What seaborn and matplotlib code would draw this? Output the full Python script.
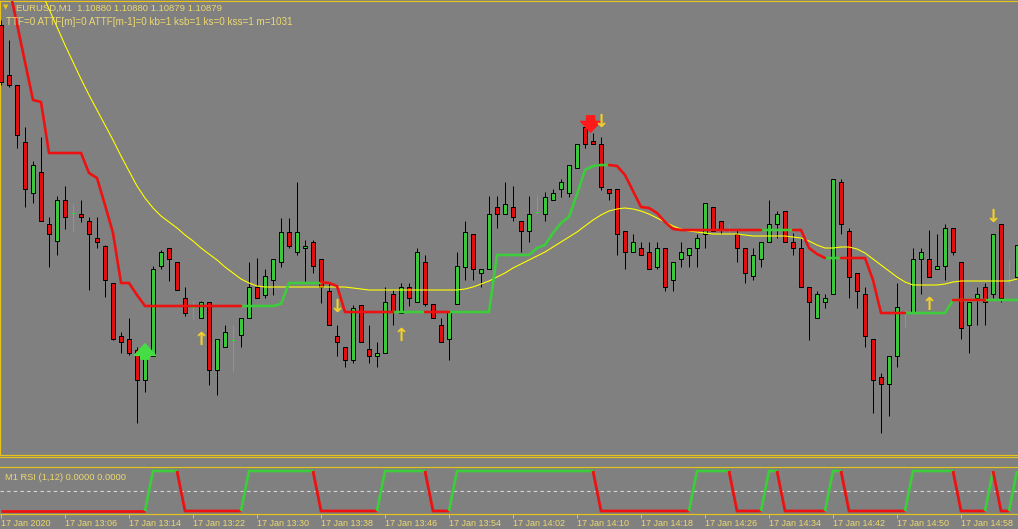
import numpy as np
import pandas as pd
import matplotlib
matplotlib.use("Agg")
import matplotlib.pyplot as plt
from matplotlib.lines import Line2D
from matplotlib.transforms import ScaledTranslation
import seaborn as sns

nan = float("nan")

# EURUSD M1, one bar per minute starting 17 Jan 2020 12:58
open_ = [
    1.11099, 1.11049, 1.11039, 1.10982, 1.10931, 1.10952, 1.10900, 1.10883,
    1.10924, 1.10911, 1.10910, 1.10903, 1.10886, 1.10878, 1.10841, 1.10788,
    1.10785, 1.10774, 1.10744, 1.10768, 1.10858, 1.10876, 1.10862, 1.10826,
    1.10817, 1.10806, 1.10822, 1.10754, 1.10777, 1.10784, 1.10789, 1.10806,
    1.10837, 1.10829, 1.10844, 1.10862, 1.10892, 1.10872, 1.10876, 1.10882,
    1.10865, 1.10833, 1.10788, 1.10777, 1.10764, 1.10819, 1.10775, 1.10768,
    1.10771, 1.10830, 1.10811, 1.10837, 1.10822, 1.10862, 1.10820, 1.10799,
    1.10785, 1.10820, 1.10857, 1.10890, 1.10851, 1.10855, 1.10917, 1.10910,
    1.10917, 1.10903, 1.10893, 1.10912, 1.10910, 1.10924, 1.10935, 1.10931,
    1.10956, 1.10997, 1.10983, 1.10980, 1.10935, 1.10935, 1.10893, 1.10872,
    1.10876, 1.10872, 1.10857, 1.10876, 1.10844, 1.10865, 1.10869, 1.10876,
    1.10890, 1.10917, 1.10903, 1.10894, 1.10890, 1.10876, 1.10848, 1.10865,
    1.10882, 1.10900, 1.10913, 1.10882, 1.10876, 1.10837, 1.10806, 1.10822,
    1.10830, 1.10942, 1.10893, 1.10851, 1.10830, 1.10785, 1.10747, 1.10740,
    1.10768, 1.10812, 1.10812, 1.10865, 1.10865, 1.10855, 1.10858, 1.10896,
    1.10862, 1.10799, 1.10826, 1.10837, 1.10830, 1.10900, 1.10844, 1.10847,
]
high = [
    1.11104, 1.11084, 1.11039, 1.10997, 1.10963, 1.10987, 1.10907, 1.10928,
    1.10938, 1.10920, 1.10924, 1.10907, 1.10907, 1.10879, 1.10841, 1.10792,
    1.10806, 1.10777, 1.10777, 1.10858, 1.10874, 1.10876, 1.10862, 1.10837,
    1.10824, 1.10823, 1.10822, 1.10785, 1.10799, 1.10799, 1.10806, 1.10862,
    1.10866, 1.10855, 1.10865, 1.10906, 1.10906, 1.10942, 1.10884, 1.10884,
    1.10865, 1.10841, 1.10799, 1.10777, 1.10819, 1.10819, 1.10799, 1.10782,
    1.10837, 1.10834, 1.10841, 1.10841, 1.10876, 1.10869, 1.10820, 1.10806,
    1.10812, 1.10872, 1.10903, 1.10890, 1.10855, 1.10928, 1.10928, 1.10942,
    1.10938, 1.10903, 1.10928, 1.10928, 1.10932, 1.10935, 1.10945, 1.10959,
    1.10980, 1.11001, 1.10991, 1.10987, 1.10935, 1.10935, 1.10893, 1.10890,
    1.10882, 1.10882, 1.10882, 1.10876, 1.10862, 1.10882, 1.10876, 1.10890,
    1.10921, 1.10917, 1.10903, 1.10900, 1.10895, 1.10876, 1.10876, 1.10882,
    1.10924, 1.10913, 1.10913, 1.10891, 1.10886, 1.10837, 1.10833, 1.10830,
    1.10945, 1.10945, 1.10896, 1.10851, 1.10837, 1.10785, 1.10751, 1.10768,
    1.10841, 1.10814, 1.10876, 1.10876, 1.10894, 1.10890, 1.10900, 1.10896,
    1.10862, 1.10822, 1.10837, 1.10841, 1.10890, 1.10900, 1.10864, 1.10879,
]
low = [
    1.11039, 1.11037, 1.10976, 1.10917, 1.10921, 1.10903, 1.10857, 1.10869,
    1.10895, 1.10892, 1.10902, 1.10834, 1.10876, 1.10827, 1.10784, 1.10771,
    1.10769, 1.10701, 1.10732, 1.10768, 1.10855, 1.10843, 1.10834, 1.10808,
    1.10805, 1.10806, 1.10739, 1.10729, 1.10777, 1.10752, 1.10777, 1.10806,
    1.10826, 1.10826, 1.10829, 1.10857, 1.10876, 1.10869, 1.10841, 1.10851,
    1.10821, 1.10799, 1.10768, 1.10757, 1.10761, 1.10782, 1.10761, 1.10757,
    1.10771, 1.10799, 1.10811, 1.10818, 1.10822, 1.10818, 1.10806, 1.10782,
    1.10764, 1.10820, 1.10844, 1.10844, 1.10837, 1.10855, 1.10896, 1.10910,
    1.10903, 1.10872, 1.10882, 1.10910, 1.10903, 1.10924, 1.10927, 1.10927,
    1.10956, 1.10976, 1.10980, 1.10934, 1.10924, 1.10869, 1.10855, 1.10872,
    1.10869, 1.10855, 1.10855, 1.10833, 1.10833, 1.10857, 1.10857, 1.10857,
    1.10876, 1.10893, 1.10890, 1.10892, 1.10862, 1.10841, 1.10844, 1.10857,
    1.10882, 1.10886, 1.10882, 1.10869, 1.10837, 1.10784, 1.10806, 1.10816,
    1.10830, 1.10890, 1.10826, 1.10816, 1.10777, 1.10711, 1.10691, 1.10708,
    1.10757, 1.10796, 1.10812, 1.10830, 1.10847, 1.10855, 1.10844, 1.10869,
    1.10785, 1.10771, 1.10799, 1.10799, 1.10826, 1.10822, 1.10840, 1.10847,
]
close = [
    1.11042, 1.11039, 1.10989, 1.10935, 1.10959, 1.10903, 1.10890, 1.10924,
    1.10907, 1.10911, 1.10907, 1.10890, 1.10882, 1.10844, 1.10785, 1.10782,
    1.10771, 1.10744, 1.10771, 1.10855, 1.10872, 1.10865, 1.10834, 1.10811,
    1.10817, 1.10822, 1.10754, 1.10785, 1.10792, 1.10784, 1.10806, 1.10837,
    1.10826, 1.10848, 1.10865, 1.10892, 1.10878, 1.10892, 1.10878, 1.10858,
    1.10837, 1.10799, 1.10782, 1.10764, 1.10816, 1.10782, 1.10768, 1.10771,
    1.10822, 1.10812, 1.10837, 1.10826, 1.10872, 1.10820, 1.10806, 1.10782,
    1.10812, 1.10858, 1.10892, 1.10855, 1.10855, 1.10910, 1.10910, 1.10920,
    1.10907, 1.10893, 1.10910, 1.10912, 1.10927, 1.10931, 1.10942, 1.10959,
    1.10980, 1.10980, 1.10980, 1.10937, 1.10931, 1.10890, 1.10872, 1.10882,
    1.10869, 1.10855, 1.10876, 1.10837, 1.10862, 1.10872, 1.10876, 1.10886,
    1.10921, 1.10893, 1.10894, 1.10894, 1.10876, 1.10851, 1.10869, 1.10882,
    1.10900, 1.10910, 1.10882, 1.10876, 1.10837, 1.10822, 1.10830, 1.10826,
    1.10945, 1.10900, 1.10847, 1.10833, 1.10788, 1.10744, 1.10740, 1.10768,
    1.10817, 1.10812, 1.10865, 1.10872, 1.10847, 1.10858, 1.10896, 1.10872,
    1.10796, 1.10822, 1.10830, 1.10822, 1.10890, 1.10826, 1.10844, 1.10879,
]

# thin yellow moving average
ma = [
    1.11224, 1.11204, 1.11186, 1.11169, 1.11151, 1.11133, 1.11115, 1.11097,
    1.11079, 1.11062, 1.11045, 1.11029, 1.11014, 1.10999, 1.10984, 1.10968,
    1.10953, 1.10938, 1.10926, 1.10916, 1.10908, 1.10902, 1.10896, 1.10889,
    1.10883, 1.10876, 1.10870, 1.10864, 1.10857, 1.10851, 1.10845, 1.10841,
    1.10838, 1.10837, 1.10837, 1.10837, 1.10837, 1.10837, 1.10837, 1.10837,
    1.10837, 1.10837, 1.10837, 1.10837, 1.10836, 1.10835, 1.10834, 1.10834,
    1.10834, 1.10834, 1.10834, 1.10834, 1.10834, 1.10834, 1.10834, 1.10834,
    1.10834, 1.10834, 1.10835, 1.10837, 1.10840, 1.10843, 1.10847, 1.10851,
    1.10856, 1.10860, 1.10864, 1.10868, 1.10872, 1.10877, 1.10882, 1.10887,
    1.10892, 1.10898, 1.10904, 1.10909, 1.10913, 1.10915, 1.10916, 1.10915,
    1.10913, 1.10910, 1.10906, 1.10902, 1.10898, 1.10895, 1.10893, 1.10892,
    1.10891, 1.10890, 1.10890, 1.10890, 1.10890, 1.10889, 1.10888, 1.10888,
    1.10888, 1.10888, 1.10888, 1.10887, 1.10886, 1.10883, 1.10879, 1.10876,
    1.10876, 1.10877, 1.10877, 1.10875, 1.10871, 1.10865, 1.10859, 1.10853,
    1.10847, 1.10842, 1.10839, 1.10839, 1.10839, 1.10839, 1.10840, 1.10842,
    1.10843, 1.10843, 1.10843, 1.10843, 1.10843, 1.10843, 1.10843, 1.10845,
]

# trailing stop line, up (green) and down (red) buffers
stop_up = [
    nan, nan, nan, nan, nan, nan, nan, nan,
    nan, nan, nan, nan, nan, nan, nan, nan,
    nan, nan, nan, nan, nan, nan, nan, nan,
    nan, nan, nan, nan, nan, nan, 1.10818, 1.10818,
    1.10818, 1.10818, 1.10818, 1.10820, 1.10841, 1.10841, 1.10841, 1.10841,
    1.10841, nan, nan, nan, nan, nan, nan, nan,
    nan, 1.10812, 1.10812, 1.10812, 1.10812, 1.10812, nan, nan,
    1.10812, 1.10812, 1.10812, 1.10812, 1.10812, 1.10812, 1.10869, 1.10869,
    1.10869, 1.10869, 1.10869, 1.10876, 1.10879, 1.10891, 1.10901, 1.10907,
    1.10930, 1.10954, 1.10958, 1.10959, 1.10959, nan, nan, nan,
    nan, nan, nan, nan, nan, nan, nan, nan,
    nan, nan, nan, nan, nan, nan, nan, 1.10894,
    1.10894, 1.10894, 1.10894, 1.10894, nan, nan, nan, 1.10866,
    1.10866, 1.10866, nan, nan, nan, nan, nan, nan,
    nan, 1.10811, 1.10811, 1.10811, 1.10811, 1.10811, 1.10811, 1.10824,
    1.10824, 1.10824, 1.10824, 1.10824, 1.10824, 1.10824, 1.10824, 1.10824,
]
stop_dn = [
    1.11176, 1.11138, 1.11100, 1.11062, 1.11024, 1.11022, 1.10971, 1.10971,
    1.10971, 1.10971, 1.10971, 1.10951, 1.10946, 1.10919, 1.10891, 1.10841,
    1.10841, 1.10829, 1.10818, 1.10818, 1.10818, 1.10818, 1.10818, 1.10818,
    1.10818, 1.10818, 1.10818, 1.10818, 1.10818, 1.10818, 1.10818, nan,
    nan, nan, nan, nan, nan, nan, nan, nan,
    1.10842, 1.10841, 1.10838, 1.10812, 1.10812, 1.10812, 1.10812, 1.10812,
    1.10812, 1.10812, nan, nan, nan, 1.10812, 1.10812, 1.10812,
    1.10812, nan, nan, nan, nan, nan, nan, nan,
    nan, nan, nan, nan, nan, nan, nan, nan,
    nan, nan, nan, nan, 1.10959, 1.10958, 1.10949, 1.10933,
    1.10917, 1.10916, 1.10911, 1.10902, 1.10895, 1.10894, 1.10894, 1.10894,
    1.10894, 1.10894, 1.10894, 1.10894, 1.10894, 1.10894, 1.10894, 1.10894,
    nan, nan, nan, 1.10894, 1.10894, 1.10876, 1.10870, 1.10866,
    nan, 1.10866, 1.10866, 1.10866, 1.10866, 1.10844, 1.10811, 1.10811,
    1.10811, 1.10811, nan, nan, nan, nan, nan, 1.10824,
    1.10824, 1.10824, 1.10824, 1.10824, nan, nan, nan, nan,
]

# RSI(1,12) sub window
rsi = [
    0, 0, 0, 0, 0, 0, 0, 0,
    0, 0, 0, 0, 0, 0, 0, 0,
    0, 0, 0, 100, 100, 100, 100, 0,
    0, 0, 0, 0, 0, 0, 0, 100,
    100, 100, 100, 100, 100, 100, 100, 100,
    0, 0, 0, 0, 0, 0, 0, 0,
    100, 100, 100, 100, 100, 100, 0, 0,
    0, 100, 100, 100, 100, 100, 100, 100,
    100, 100, 100, 100, 100, 100, 100, 100,
    100, 100, 100, 0, 0, 0, 0, 0,
    0, 0, 0, 0, 0, 0, 0, 100,
    100, 100, 100, 100, 0, 0, 0, 0,
    100, 100, 0, 0, 0, 0, 0, 0,
    100, 100, 0, 0, 0, 0, 0, 0,
    0, 0, 100, 100, 100, 100, 100, 100,
    0, 0, 0, 0, 100, 0, 0, 100,
]

# signal arrows
sig_up_bar = [25, 50, 116]
sig_up_price = [1.10784, 1.10788, 1.10819]
sig_dn_bar = [42, 75, 124]
sig_dn_price = [1.10817, 1.11002, 1.10907]
big_up_bar, big_up_from, big_up_to = 18, 1.10762, 1.10783
big_dn_bar, big_dn_from, big_dn_to = 73.7, 1.11011, 1.10989

tick_bars = [0, 8, 16, 24, 32, 40, 48, 56, 64, 72, 80, 88, 96, 104, 112, 120]
tick_labels = ["17 Jan 2020", "17 Jan 13:06", "17 Jan 13:14", "17 Jan 13:22",
               "17 Jan 13:30", "17 Jan 13:38", "17 Jan 13:46", "17 Jan 13:54",
               "17 Jan 14:02", "17 Jan 14:10", "17 Jan 14:18", "17 Jan 14:26",
               "17 Jan 14:34", "17 Jan 14:42", "17 Jan 14:50", "17 Jan 14:58"]

BG = "#808080"
FRAME = "#e6c41c"
TXT = "#ecd870"
BULL = "#3cc83c"
BEAR = "#e01010"
DOJI = "#22e022"
LINE_UP = "#3ccc3c"
LINE_DN = "#ee1111"
ARROW = "#f2cf2c"
PX = 0.72  # one pixel in points

sns.set_style("dark", {"axes.facecolor": BG, "figure.facecolor": BG})
plt.rcParams["font.family"] = ["Liberation Sans", "DejaVu Sans"]

W, H = 1018, 529
fig = plt.figure(figsize=(W / 100, H / 100), dpi=100)
fig.patch.set_facecolor(BG)


def box(top, bottom, left=0, right=W):
    return [left / W, 1 - bottom / H, (right - left) / W, (bottom - top) / H]


ax = fig.add_axes(box(1, 455))
ax_rsi = fig.add_axes(box(467, 514))

df = pd.DataFrame({"open": open_, "high": high, "low": low, "close": close})
df["bar"] = np.arange(len(df))
up = df.close > df.open
dn = df.close < df.open
flat = df.close == df.open

# candles
ax.vlines(df.bar[~flat], df.low[~flat], df.high[~flat], color="black", lw=PX, zorder=2)
ax.bar(df.bar[up], (df.close - df.open)[up], bottom=df.open[up], width=0.6,
       color=BULL, edgecolor="black", linewidth=PX, zorder=3)
ax.bar(df.bar[dn], (df.open - df.close)[dn], bottom=df.close[dn], width=0.6,
       color=BEAR, edgecolor="black", linewidth=PX, zorder=3)
ax.vlines(df.bar[flat], df.low[flat], df.high[flat], color=DOJI, lw=PX, zorder=3)
ax.hlines(df.close[flat], df.bar[flat] - 0.3, df.bar[flat] + 0.3, color=DOJI, lw=PX, zorder=3)

# indicators
sns.lineplot(x=df.bar, y=ma, ax=ax, color="#ffff00", lw=0.8, zorder=4)
ax.plot(df.bar, stop_up, color=LINE_UP, lw=1.9, zorder=5, solid_joinstyle="round")
ax.plot(df.bar, stop_dn, color=LINE_DN, lw=1.9, zorder=6, solid_joinstyle="round")

ax.annotate("", xy=(big_up_bar, big_up_to), xytext=(big_up_bar, big_up_from),
            arrowprops=dict(arrowstyle="simple,head_length=0.6,head_width=1.1,tail_width=0.45",
                            color="#44dd44", mutation_scale=14), zorder=8)
ax.annotate("", xy=(big_dn_bar, big_dn_to), xytext=(big_dn_bar, big_dn_from),
            arrowprops=dict(arrowstyle="simple,head_length=0.6,head_width=1.1,tail_width=0.45",
                            color="#ff1a1a", mutation_scale=13), zorder=8)
for b, p in zip(sig_up_bar, sig_up_price):
    ax.text(b, p, "\u2191", color=ARROW, fontsize=13, fontweight="bold",
            family="DejaVu Sans", ha="center", va="center", zorder=9)
for b, p in zip(sig_dn_bar, sig_dn_price):
    ax.text(b, p, "\u2193", color=ARROW, fontsize=13, fontweight="bold",
            family="DejaVu Sans", ha="center", va="center", zorder=9)

ax.set_xlim(-0.125, 127.125)
ax.set_ylim(1.10669, 1.11123)
ax.set_xticks([])
ax.set_yticks([])
ax.set_xlabel("")
ax.set_ylabel("")
for side in ["top", "left", "bottom"]:
    ax.spines[side].set_visible(True)
    ax.spines[side].set_color(FRAME)
    ax.spines[side].set_linewidth(PX * 1.2)
ax.spines["right"].set_visible(False)

# RSI window: green while rising / high, red while falling / low
runs = []
cur = None
for i in range(1, len(rsi)):
    col = LINE_UP if rsi[i] >= 50 else LINE_DN
    if cur is None or cur[0] != col:
        cur = [col, i - 1, i]
        runs.append(cur)
    else:
        cur[2] = i
for col, a, b in runs:
    xs = list(range(a, b + 1))
    ax_rsi.plot(xs, rsi[a:b + 1], color=col, lw=2.0, solid_joinstyle="miter",
                solid_capstyle="butt", zorder=3)
ax_rsi.axhline(50, color="#d8d8d8", lw=0.8, ls=(0, (3, 3)), zorder=2)
ax_rsi.set_xlim(-0.125, 127.125)
ax_rsi.set_ylim(-7.5, 110)
ax_rsi.set_yticks([])
ax_rsi.set_xticks(tick_bars)
ax_rsi.set_xticklabels(tick_labels, ha="left", fontsize=6.5, color=TXT)
for lab in ax_rsi.get_xticklabels():
    lab.set_transform(lab.get_transform() + ScaledTranslation(2 / 100, 0, fig.dpi_scale_trans))
ax_rsi.tick_params(axis="x", direction="out", length=3, width=PX, color=FRAME, pad=0.5,
                   bottom=True)
for side in ["top", "bottom"]:
    ax_rsi.spines[side].set_visible(True)
    ax_rsi.spines[side].set_color(FRAME)
    ax_rsi.spines[side].set_linewidth(PX * 1.2)
ax_rsi.spines["left"].set_visible(False)
ax_rsi.spines["right"].set_visible(False)
ax_rsi.text(5 / W, 1 - 10 / 47, "M1 RSI (1,12) 0.0000 0.0000", transform=ax_rsi.transAxes,
            color=TXT, fontsize=6.7, ha="left", va="center")

fig.add_artist(Line2D([0, 1], [1 - 457 / H] * 2, transform=fig.transFigure,
                      color=FRAME, lw=PX * 1.2))

# header
fig.text(3 / W, 1 - 7 / H, "\u25bc", color=FRAME, fontsize=5, family="DejaVu Sans",
         ha="left", va="center")
fig.text(16 / W, 1 - 8 / H, "EURUSD,M1  1.10880 1.10880 1.10879 1.10879",
         color=TXT, fontsize=6.8, ha="left", va="center")
fig.text(6 / W, 1 - 22 / H, "TTF=0 ATTF[m]=0 ATTF[m-1]=0 kb=1 ksb=1 ks=0 kss=1 m=1031",
         color=TXT, fontsize=7.1, ha="left", va="center")

fig.savefig("out.png", dpi=100, facecolor=BG)
